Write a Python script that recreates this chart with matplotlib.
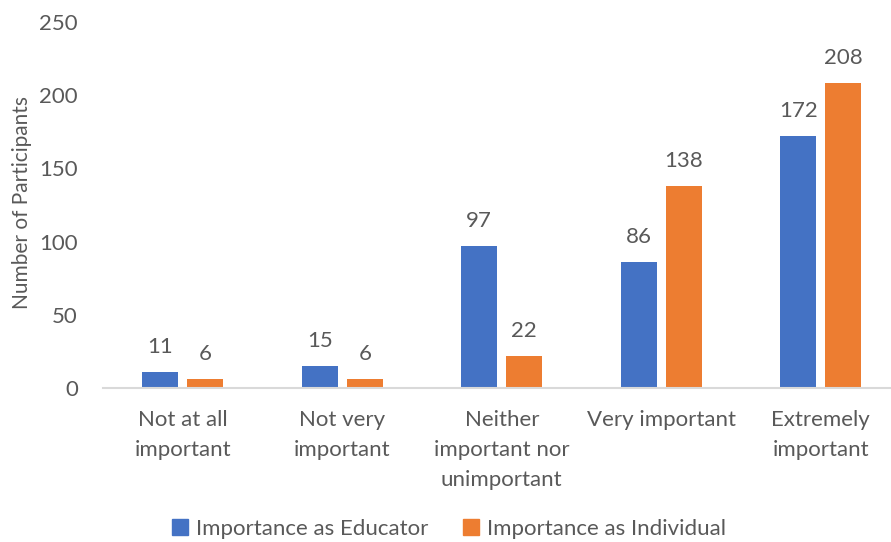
import matplotlib
matplotlib.use("Agg")
import matplotlib.pyplot as plt
import numpy as np
from matplotlib.patches import Patch

categories = ["Not at all\nimportant", "Not very\nimportant", "Neither\nimportant nor\nunimportant",
              "Very important", "Extremely\nimportant"]
educator = [11, 15, 97, 86, 172]
individual = [6, 6, 22, 138, 208]
series_names = ["Importance as Educator", "Importance as Individual"]
yticks = [0, 50, 100, 150, 200, 250]

blue = "#4472C4"
orange = "#ED7D31"
textc = "#595959"
FONT = "Lato"
FS = 16

plt.rcParams['font.family'] = [FONT, 'DejaVu Sans']

fig = plt.figure(figsize=(8.91, 5.42), dpi=100)
ax = fig.add_axes([103/891, 154/542, 1 - 103/891, 366/542])

x = np.arange(len(categories))
w = 0.226
off = 0.141
b1 = ax.bar(x - off, educator, w, color=blue)
b2 = ax.bar(x + off, individual, w, color=orange)

for bars, vals in ((b1, educator), (b2, individual)):
    for rect, v in zip(bars, vals):
        ax.annotate(str(v), (rect.get_x() + rect.get_width()/2, rect.get_height()),
                    xytext=(0, 11), textcoords="offset points", ha="center", va="bottom",
                    fontsize=FS, color=textc)

ax.set_xlim(-0.5, 4.44)
ax.set_ylim(0, 250)
ax.set_yticks(yticks)
ax.set_xticks(x)
ax.set_xticklabels(categories, linespacing=1.62)
ax.tick_params(axis='both', length=0, labelsize=FS, colors=textc)
ax.tick_params(axis='x', pad=16)
ax.tick_params(axis='y', pad=18)
for s in ["top", "right", "left"]:
    ax.spines[s].set_visible(False)
ax.spines["bottom"].set_color("#D9D9D9")
ax.spines["bottom"].set_linewidth(1.5)

fig.text(22/891, 1 - 202/542, "Number of Participants", rotation=90, ha="center", va="center",
         fontsize=15, color=textc)

handles = [Patch(color=blue), Patch(color=orange)]
leg = fig.legend(handles, series_names, loc="center", bbox_to_anchor=(449/891, 1 - 529/542),
                 ncol=2, frameon=False, fontsize=FS, handlelength=0.7, handleheight=0.7,
                 handletextpad=0.35, columnspacing=1.6)
for t in leg.get_texts():
    t.set_color(textc)

fig.savefig("out.png", dpi=100)
